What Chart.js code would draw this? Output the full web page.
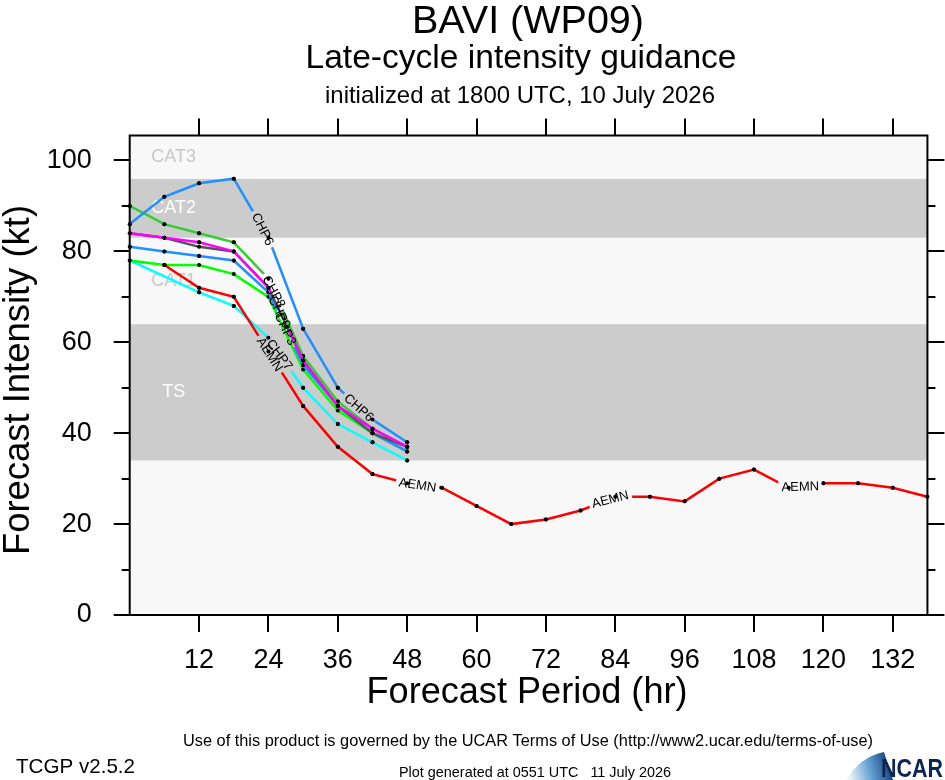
<!DOCTYPE html>
<html>
<head>
<meta charset="utf-8">
<title>BAVI (WP09) late-cycle intensity guidance</title>
<script src="https://cdn.jsdelivr.net/npm/chart.js@4/dist/chart.umd.min.js"></script>
<style>
  html, body { margin: 0; padding: 0; background: #fff; }
  canvas { display: block; }
</style>
</head>
<body>
<canvas id="myChart" width="945" height="780" style="width:945px;height:780px"></canvas>
<script>
// forecast hours
var hoursEarly = [0, 6, 12, 18, 24, 30, 36, 42, 48];
var hoursAemn = [6, 12, 18, 24, 30, 36, 42, 48, 54, 60, 66, 72, 78, 84, 90, 96, 102, 108, 114, 120, 126, 132, 138];

// intensity (kt)
var chp6 = [86, 92, 95, 96, 83, 63, 50, 43, 38];
var chp8 = [90, 86, 84, 82, 74, 57, 47, 41, 37];
var chp9 = [84, 83, 82, 80, 72, 56, 46, 41, 37];
var chp5 = [84, 83, 81, 80, 72, 56, 46, 40, 37];
var chp3 = [81, 80, 79, 78, 71, 55, 46, 40, 36];
var chp2 = [78, 77, 77, 75, 70, 54, 45, 40, 36];
var chp7 = [78, null, 71, 68, 61, 50, 42, 38, 34];
var aemn = [77, 72, 70, 58, 46, 37, 31, 29, 28, 24, 20, 21, 23, 26, 26, 25, 30, 32, 28, 29, 29, 28, 26];

// axes
var xTicks = [12, 24, 36, 48, 60, 72, 84, 96, 108, 120, 132];
var yTicks = [0, 20, 40, 60, 80, 100];
var yMinorTicks = [10, 30, 50, 70, 90];

// Saffir-Simpson bands
var bandEdges = [0, 34, 64, 83, 96, 105.5];
var bandNames = ['', 'TS', 'CAT1', 'CAT2', 'CAT3'];

// line labels: which series, and the hour they sit at
var labelSeries = ['CHP6', 'CHP6', 'CHP8', 'CHP9', 'CHP3', 'CHP7', 'AEMN', 'AEMN', 'AEMN', 'AEMN'];
var labelHours = [23.1, 39.7, 25, 26, 27, 26, 24.3, 49.8, 83.1, 116];

var colors = {
    CHP6: '#1e90ff', AEMN: '#ff0000', CHP9: '#ff00ff', CHP5: '#555555',
    CHP8: '#33cc33', CHP3: '#1e90ff', CHP2: '#00ff00', CHP7: '#00ffff'
};

var FONT = '"Liberation Sans", Arial, Helvetica, sans-serif';

function pts(hours, vals) {
    return hours.map(function (h, i) { return {x: h, y: vals[i]}; });
}

// first dataset is drawn on top
var datasets = [
    ['CHP6', hoursEarly, chp6],
    ['AEMN', hoursAemn, aemn],
    ['CHP9', hoursEarly, chp9],
    ['CHP5', hoursEarly, chp5],
    ['CHP8', hoursEarly, chp8],
    ['CHP3', hoursEarly, chp3],
    ['CHP2', hoursEarly, chp2],
    ['CHP7', hoursEarly, chp7]
].map(function (s) {
    return {
        label: s[0],
        data: pts(s[1], s[2]),
        borderColor: colors[s[0]],
        borderWidth: 2.5,
        pointRadius: 2,
        pointBorderWidth: 0,
        pointBackgroundColor: '#000',
        tension: 0,
        fill: false,
        spanGaps: true
    };
});

function valueAt(data, hr) {
    var p = data.filter(function (d) { return d.y !== null; });
    if (hr <= p[0].x) return p[0].y;
    for (var i = 0; i < p.length - 1; i++) {
        if (hr <= p[i + 1].x) {
            var t = (hr - p[i].x) / (p[i + 1].x - p[i].x);
            return p[i].y + t * (p[i + 1].y - p[i].y);
        }
    }
    return p[p.length - 1].y;
}

// text drawn to an exact width (the original uses a narrow Helvetica)
function fitText(ctx, text, x, y, size, width, align, weight, color, rot) {
    ctx.save();
    ctx.font = (weight || 'normal') + ' ' + size + 'px ' + FONT;
    var w = ctx.measureText(text).width;
    ctx.translate(x, y);
    if (rot) ctx.rotate(rot);
    ctx.scale(width / w, 1);
    ctx.textAlign = align || 'center';
    ctx.textBaseline = 'alphabetic';
    ctx.fillStyle = color || '#000';
    ctx.fillText(text, 0, 0);
    ctx.restore();
}

var labelBoxes = {};

function buildLabelBoxes(chart) {
    var ctx = chart.ctx, xs = chart.scales.x, ys = chart.scales.y;
    ctx.save();
    ctx.font = '13px ' + FONT;
    labelBoxes = {};
    labelSeries.forEach(function (name, k) {
        var idx = chart.data.datasets.findIndex(function (d) { return d.label === name; });
        var data = chart.data.datasets[idx].data;
        var hr = labelHours[k];
        var x1 = xs.getPixelForValue(hr - 3), y1 = ys.getPixelForValue(valueAt(data, hr - 3));
        var x2 = xs.getPixelForValue(hr + 3), y2 = ys.getPixelForValue(valueAt(data, hr + 3));
        var box = {
            text: name,
            cx: xs.getPixelForValue(hr),
            cy: ys.getPixelForValue(valueAt(data, hr)),
            angle: Math.atan2(y2 - y1, x2 - x1),
            w: ctx.measureText(name).width + 6,
            h: 14
        };
        (labelBoxes[idx] = labelBoxes[idx] || []).push(box);
    });
    ctx.restore();
}

function boxPath(ctx, b) {
    var c = Math.cos(b.angle), s = Math.sin(b.angle);
    var hw = b.w / 2, hh = b.h / 2;
    [[-hw, -hh], [hw, -hh], [hw, hh], [-hw, hh]].forEach(function (p, k) {
        var x = b.cx + p[0] * c - p[1] * s, y = b.cy + p[0] * s + p[1] * c;
        if (k === 0) ctx.moveTo(x, y); else ctx.lineTo(x, y);
    });
    ctx.closePath();
}

var plotDecor = {
    id: 'plotDecor',
    beforeDatasetsDraw: function (chart) {
        var ctx = chart.ctx, a = chart.chartArea, xs = chart.scales.x, ys = chart.scales.y;
        ctx.save();
        for (var i = 0; i < bandEdges.length - 1; i++) {
            var top = ys.getPixelForValue(bandEdges[i + 1]), bot = ys.getPixelForValue(bandEdges[i]);
            ctx.fillStyle = i % 2 ? '#cccccc' : '#f8f8f8';
            ctx.fillRect(a.left, top, a.right - a.left, bot - top);
            if (bandNames[i]) {
                ctx.font = '18px ' + FONT;
                ctx.textAlign = 'center';
                ctx.textBaseline = 'middle';
                ctx.fillStyle = i % 2 ? '#ffffff' : '#c8c8c8';
                ctx.fillText(bandNames[i], xs.getPixelForValue(7.6), (top + bot) / 2);
            }
        }
        ctx.restore();
        buildLabelBoxes(chart);
    },
    beforeDatasetDraw: function (chart, args) {
        var boxes = labelBoxes[args.index];
        if (!boxes) return;
        var ctx = chart.ctx;
        ctx.save();
        ctx.beginPath();
        ctx.rect(0, 0, chart.width, chart.height);
        boxes.forEach(function (b) { boxPath(ctx, b); });
        ctx.clip('evenodd');
    },
    afterDatasetDraw: function (chart, args) {
        if (!labelBoxes[args.index]) return;
        chart.ctx.restore();
        args.meta.data.forEach(function (p) { p.draw(chart.ctx, chart.chartArea); });
    },
    afterDatasetsDraw: function (chart) {
        var ctx = chart.ctx, a = chart.chartArea, xs = chart.scales.x, ys = chart.scales.y;
        ctx.save();
        // line labels
        ctx.font = '13px ' + FONT;
        ctx.fillStyle = '#000';
        ctx.textAlign = 'center';
        ctx.textBaseline = 'middle';
        Object.keys(labelBoxes).forEach(function (k) {
            labelBoxes[k].forEach(function (b) {
                ctx.save();
                ctx.translate(b.cx, b.cy);
                ctx.rotate(b.angle);
                ctx.fillText(b.text, 0, 1);
                ctx.restore();
            });
        });
        // frame and tick marks
        ctx.strokeStyle = '#000';
        ctx.lineWidth = 2;
        ctx.strokeRect(a.left, a.top, a.right - a.left, a.bottom - a.top);
        ctx.beginPath();
        xTicks.forEach(function (v) {
            var px = Math.round(xs.getPixelForValue(v));
            ctx.moveTo(px, a.bottom); ctx.lineTo(px, a.bottom + 17);
            ctx.moveTo(px, a.top); ctx.lineTo(px, a.top - 17);
        });
        yTicks.forEach(function (v) {
            var py = Math.round(ys.getPixelForValue(v));
            ctx.moveTo(a.left - 16, py); ctx.lineTo(a.left, py);
            ctx.moveTo(a.right, py); ctx.lineTo(a.right + 17, py);
        });
        yMinorTicks.forEach(function (v) {
            var py = Math.round(ys.getPixelForValue(v));
            ctx.moveTo(a.left - 8, py); ctx.lineTo(a.left, py);
            ctx.moveTo(a.right, py); ctx.lineTo(a.right + 8, py);
        });
        ctx.stroke();
        ctx.restore();
    },
    afterDraw: function (chart) {
        var ctx = chart.ctx;
        // titles
        fitText(ctx, 'BAVI (WP09)', 528, 33, 38, 232);
        fitText(ctx, 'Late-cycle intensity guidance', 521, 68, 33, 431);
        fitText(ctx, 'initialized at 1800 UTC, 10 July 2026', 520, 103, 24, 390);
        // axis titles
        fitText(ctx, 'Forecast Intensity (kt)', 29, 380, 36, 350, 'center', 'normal', '#000', -Math.PI / 2);
        fitText(ctx, 'Forecast Period (hr)', 527, 703, 36, 321);
        // footer
        fitText(ctx, 'Use of this product is governed by the UCAR Terms of Use (http://www2.ucar.edu/terms-of-use)', 528, 746, 16, 690);
        fitText(ctx, 'TCGP v2.5.2', 16, 773, 21, 119, 'left');
        fitText(ctx, 'Plot generated at 0551 UTC   11 July 2026', 399, 777, 14, 272, 'left');
        // NCAR logo
        ctx.save();
        var g = ctx.createLinearGradient(848, 772, 893, 760);
        g.addColorStop(0, '#eef5fb');
        g.addColorStop(0.5, '#5b9bd0');
        g.addColorStop(1, '#0b2f6e');
        ctx.fillStyle = g;
        ctx.beginPath();
        ctx.moveTo(846, 780);
        ctx.quadraticCurveTo(860, 757, 884, 752);
        ctx.lineTo(893, 780);
        ctx.closePath();
        ctx.fill();
        ctx.restore();
        fitText(ctx, 'NCAR', 881, 777, 25, 62, 'left', 'bold', '#0d2650');
    }
};

new Chart(document.getElementById('myChart').getContext('2d'), {
    type: 'line',
    data: {datasets: datasets},
    options: {
        responsive: false,
        animation: false,
        devicePixelRatio: 1,
        layout: {padding: {top: 135.5, right: 17, bottom: 100, left: 0}},
        plugins: {legend: {display: false}, tooltip: {enabled: false}},
        scales: {
            x: {
                type: 'linear',
                min: 0,
                max: 138,
                afterBuildTicks: function (s) { s.ticks = xTicks.map(function (v) { return {value: v}; }); },
                afterFit: function (s) { s.height = 65; },
                grid: {display: false, drawTicks: false},
                border: {display: false},
                ticks: {color: '#000', font: {family: FONT, size: 27}, padding: 29, maxRotation: 0, autoSkip: false}
            },
            y: {
                min: 0,
                max: 105.5,
                afterBuildTicks: function (s) { s.ticks = yTicks.map(function (v) { return {value: v}; }); },
                afterFit: function (s) { s.width = 129.7; },
                grid: {display: false, drawTicks: false},
                border: {display: false},
                ticks: {color: '#000', font: {family: FONT, size: 27}, padding: 38}
            }
        }
    },
    plugins: [plotDecor]
});
</script>
</body>
</html>
